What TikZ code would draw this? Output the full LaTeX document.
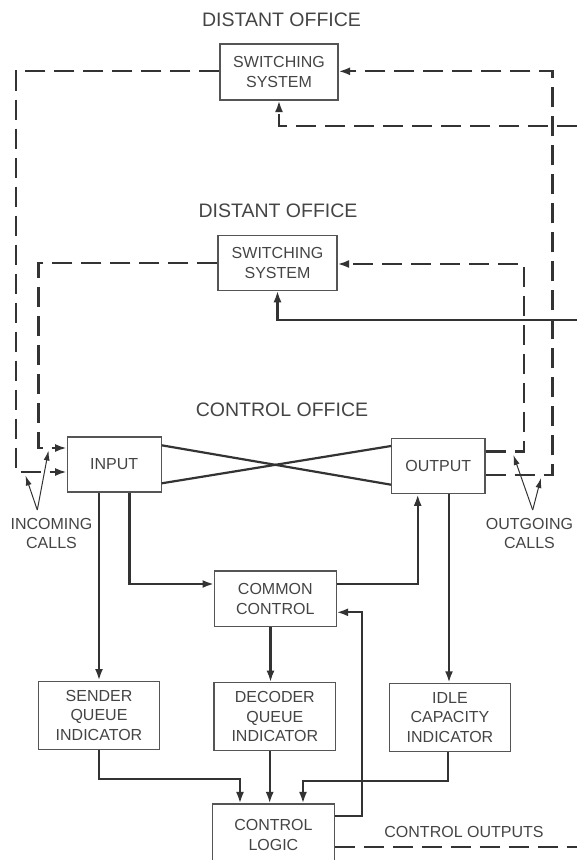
\documentclass[tikz,border=0pt]{standalone}
\usepackage{fontspec}
\setmainfont{Liberation Sans}
\usetikzlibrary{arrows.meta}
\definecolor{ink}{HTML}{333333}
\definecolor{frame}{HTML}{555555}
\definecolor{txt}{HTML}{444444}
\begin{document}
\begin{tikzpicture}[x=1pt,y=-1pt,
  box/.style={draw=frame,line width=1.1pt,inner sep=0pt,align=center,text=txt,
              font=\fontsize{16}{19.7}\selectfont},
  title/.style={anchor=base,inner sep=0pt,text=txt,font=\fontsize{19.5}{23}\selectfont},
  note/.style={inner sep=0pt,align=center,text=txt,font=\fontsize{16}{19}\selectfont},
  conn/.style={draw=ink,line width=2.2pt},
  dsh/.style={conn,dash pattern=on 20pt off 9pt},
  tip/.style={-{Latex[length=11.5pt,width=8pt]}},
  ptr/.style={draw=ink,line width=1pt,-{Latex[length=10pt,width=6pt]}}]
\useasboundingbox (0,0) rectangle (577,860);
\clip (0,0) rectangle (577,860);

% titles
\node[title] (t1) at (281.5,26) {DISTANT OFFICE};
\node[title] (t2) at (278,217.7) {DISTANT OFFICE};
\node[title] (t3) at (282,416) {CONTROL OFFICE};

% blocks
\node[box,minimum width=118pt,minimum height=56pt] (sw1) at (279,72) {SWITCHING\\SYSTEM};
\node[box,minimum width=119pt,minimum height=55pt] (sw2) at (277.5,262.7) {SWITCHING\\SYSTEM};
\node[box,minimum width=94pt,minimum height=55pt] (inp) at (114.2,464.5) {INPUT};
\node[box,minimum width=93.4pt,minimum height=55pt] (outp) at (438.3,466.3) {OUTPUT};
\node[box,minimum width=121.5pt,minimum height=55.7pt] (cc) at (275.3,598.8) {COMMON\\CONTROL};
\node[box,minimum width=120.7pt,minimum height=68.3pt] (sq) at (99,715.2) {SENDER\\QUEUE\\INDICATOR};
\node[box,minimum width=121.6pt,minimum height=68pt] (dq) at (274.8,716.7) {DECODER\\QUEUE\\INDICATOR};
\node[box,minimum width=121.5pt,minimum height=68.4pt] (ic) at (450,717.5) {IDLE\\CAPACITY\\INDICATOR};
\node[box,minimum width=121.3pt,minimum height=61.4pt] (cl) at (273.4,834.7) {CONTROL\\LOGIC};

% labels
\node[note] (inc) at (51.5,533.5) {INCOMING\\CALLS};
\node[note] (outg) at (529.5,533.5) {OUTGOING\\CALLS};
\node[title,font=\fontsize{16}{19}\selectfont] (co) at (464,837.5) {CONTROL OUTPUTS};

% free ends at the right edge
\coordinate (e1) at (577,126);
\coordinate (e2) at (577,320);
\coordinate (e3) at (577,846.7);

% trunks between offices
\draw[dsh,tip] (sw1.west |- 0,71) -- (16,71) |- (inp.west |- 0,472);
\draw[dsh,tip] (sw2.west |- 0,263) -- (38.5,263) |- (inp.west |- 0,448);
\draw[dsh,tip] (outp.east |- 0,475.3) -| (552.5,71.3) -- (sw1.east |- 0,71.3);
\draw[dsh,tip] (outp.east |- 0,451.5) -| (524,264) -- (sw2.east |- 0,264);
\draw[dsh,tip] (e1) -| (sw1.south);
\draw[conn,tip] (e2) -| (sw2.south);

% crossed paths through the control office
\draw[conn] (inp.east |- 0,445.3) -- (outp.west |- 0,484.7);
\draw[conn] (inp.east |- 0,483.3) -- (outp.west |- 0,446);

% control paths
\draw[conn,tip] (sq.north |- inp.south) -- (sq.north);
\draw[conn,tip] (inp.south -| 129.5,0) |- (cc.west |- 0,584);
\draw[conn,tip] (cc.east |- 0,584) -| (outp.south -| 417.7,0);
\draw[conn,tip] (outp.south -| 449,0) -- (ic.north -| 449,0);
\draw[conn,tip] (cc.south -| 270.5,0) -- (dq.north -| 270.5,0);
\draw[conn,tip] (sq.south -| 98.6,0) |- (240,779) -- (cl.north -| 240,0);
\draw[conn,tip] (dq.south -| 269.7,0) -- (cl.north -| 269.7,0);
\draw[conn,tip] (ic.south -| 448,0) |- (303,781) -- (cl.north -| 303,0);
\draw[conn,tip] (cl.east |- 0,816) -| (362,612.3) -- (cc.east |- 0,612.3);
\draw[dsh] (cl.east |- 0,846.7) -- (e3);

% call pointers
\coordinate (incA) at (37.3,510);
\coordinate (incB) at (25.5,475.5);
\coordinate (incC) at (48.5,450.5);
\draw[ptr] (incA) -- (incB);
\draw[ptr] (incA) -- (incC);
\coordinate (outA) at (532.7,510);
\coordinate (outB) at (513.4,455);
\coordinate (outC) at (541,478);
\draw[ptr] (outA) -- (outB);
\draw[ptr] (outA) -- (outC);
\end{tikzpicture}
\end{document}
